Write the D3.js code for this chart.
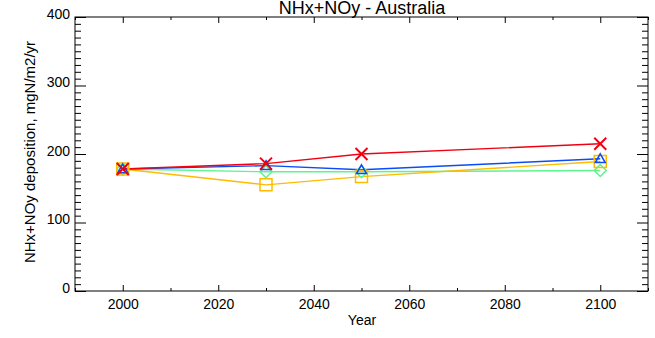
<!DOCTYPE html>
<html>
<head>
<meta charset="utf-8">
<script src="https://cdn.jsdelivr.net/npm/d3@7"></script>
<style>
  body { margin: 0; background: #fff; }
  svg { display: block; font-family: "Liberation Sans", Arial, Helvetica, sans-serif; }
</style>
</head>
<body>
<svg id="chart" width="655" height="338"></svg>
<script>
// Scenario years and NHx+NOy deposition (mgN/m2/yr) for Australia
const years = [2000, 2030, 2050, 2100];
const seriesRed = [178, 186, 200, 215];
const seriesBlue = [178, 183, 177, 193];
const seriesGreen = [178, 174, 174, 176];
const seriesOrange = [178, 155, 167, 189];
const xTicks = [2000, 2020, 2040, 2060, 2080, 2100];
const yTicks = [0, 100, 200, 300, 400];

const series = [
  { values: seriesGreen, color: "#5cf58f", symbol: "diamond" },
  { values: seriesOrange, color: "#ffbb00", symbol: "square" },
  { values: seriesBlue, color: "#0a4cf5", symbol: "triangle" },
  { values: seriesRed, color: "#f00010", symbol: "cross" }
];

const FONT = "'Liberation Sans', Arial, Helvetica, sans-serif";
const svg = d3.select("#chart");
const plotLeft = 75, plotRight = 648, plotTop = 17, plotBottom = 291;

const x = d3.scaleLinear().domain([1990, 2110]).range([plotLeft, plotRight]);
const y = d3.scaleLinear().domain([0, 400]).range([plotBottom, plotTop]);

const axisColor = "#000";
const g = svg.append("g");

// Frame
g.append("rect").attr("x", plotLeft).attr("y", plotTop)
  .attr("width", plotRight - plotLeft).attr("height", plotBottom - plotTop)
  .attr("fill", "none").attr("stroke", axisColor).attr("stroke-width", 1);

// X ticks: majors every 20 years, minors at 10-year offsets, on bottom and top
const xMinor = d3.range(1990, 2111, 10).filter(v => v % 20 !== 0);
g.append("g").attr("transform", `translate(0,${plotBottom})`)
  .call(d3.axisBottom(x).tickValues(xTicks).tickFormat(d3.format("d"))
    .tickSizeInner(-6).tickSizeOuter(0).tickPadding(8))
  .call(a => a.select(".domain").remove())
  .call(a => a.selectAll("text").attr("font-size", 14).attr("fill", "#000")
    .attr("font-family", FONT));
g.append("g").attr("transform", `translate(0,${plotBottom})`)
  .call(d3.axisBottom(x).tickValues(xMinor).tickFormat("").tickSizeInner(-3).tickSizeOuter(0))
  .call(a => a.select(".domain").remove());
g.append("g").attr("transform", `translate(0,${plotTop})`)
  .call(d3.axisTop(x).tickValues(xTicks).tickFormat("").tickSizeInner(-6).tickSizeOuter(0))
  .call(a => a.select(".domain").remove());
g.append("g").attr("transform", `translate(0,${plotTop})`)
  .call(d3.axisTop(x).tickValues(xMinor).tickFormat("").tickSizeInner(-3).tickSizeOuter(0))
  .call(a => a.select(".domain").remove());

// Y ticks: majors every 100, minors every 10, on left and right
const yMinor = d3.range(0, 401, 10).filter(v => v % 100 !== 0);
g.append("g").attr("transform", `translate(${plotLeft},0)`)
  .call(d3.axisLeft(y).tickValues(yTicks).tickFormat(d3.format("d"))
    .tickSizeInner(-11).tickSizeOuter(0).tickPadding(5))
  .call(a => a.select(".domain").remove())
  .call(a => a.selectAll("text").attr("font-size", 14).attr("fill", "#000").attr("dy", "0.1em")
    .attr("font-family", FONT));
g.append("g").attr("transform", `translate(${plotLeft},0)`)
  .call(d3.axisLeft(y).tickValues(yMinor).tickFormat("").tickSizeInner(-6).tickSizeOuter(0))
  .call(a => a.select(".domain").remove());
g.append("g").attr("transform", `translate(${plotRight},0)`)
  .call(d3.axisRight(y).tickValues(yTicks).tickFormat("").tickSizeInner(-11).tickSizeOuter(0))
  .call(a => a.select(".domain").remove());
g.append("g").attr("transform", `translate(${plotRight},0)`)
  .call(d3.axisRight(y).tickValues(yMinor).tickFormat("").tickSizeInner(-6).tickSizeOuter(0))
  .call(a => a.select(".domain").remove());
g.selectAll(".tick line").attr("stroke", axisColor);

// Titles
svg.append("text").attr("x", 362).attr("y", 13.5)
  .attr("text-anchor", "middle").attr("font-size", 18).attr("font-family", FONT)
  .text("NHx+NOy - Australia");
svg.append("text").attr("x", 362).attr("y", 325)
  .attr("text-anchor", "middle").attr("font-size", 14).attr("font-family", FONT)
  .text("Year");
svg.append("text").attr("transform", "translate(35,152) rotate(-90)")
  .attr("text-anchor", "middle").attr("font-size", 15).attr("font-family", FONT)
  .text("NHx+NOy deposition, mgN/m2/yr");

// Series lines and markers
const line = d3.line().x((d, i) => x(years[i])).y(d => y(d));
const symbolPath = {
  diamond: s => `M0,${-s}L${s},0L0,${s}L${-s},0Z`,
  square: s => `M${-s},${-s}H${s}V${s}H${-s}Z`,
  triangle: s => `M0,${-s}L${s},${s * 0.75}L${-s},${s * 0.75}Z`,
  cross: s => `M${-s},${-s}L${s},${s}M${s},${-s}L${-s},${s}`
};
const symbolSize = { diamond: 6, square: 6, triangle: 5, cross: 6 };

series.forEach(s => {
  svg.append("path").datum(s.values).attr("d", line)
    .attr("fill", "none").attr("stroke", s.color).attr("stroke-width", 1.4);
});
series.forEach(s => {
  svg.append("g").selectAll("path").data(s.values).join("path")
    .attr("transform", (d, i) => `translate(${x(years[i])},${y(d)})`)
    .attr("d", symbolPath[s.symbol](symbolSize[s.symbol]))
    .attr("fill", "none").attr("stroke", s.color)
    .attr("stroke-width", s.symbol === "cross" ? 2 : 1.5);
});
</script>
</body>
</html>
